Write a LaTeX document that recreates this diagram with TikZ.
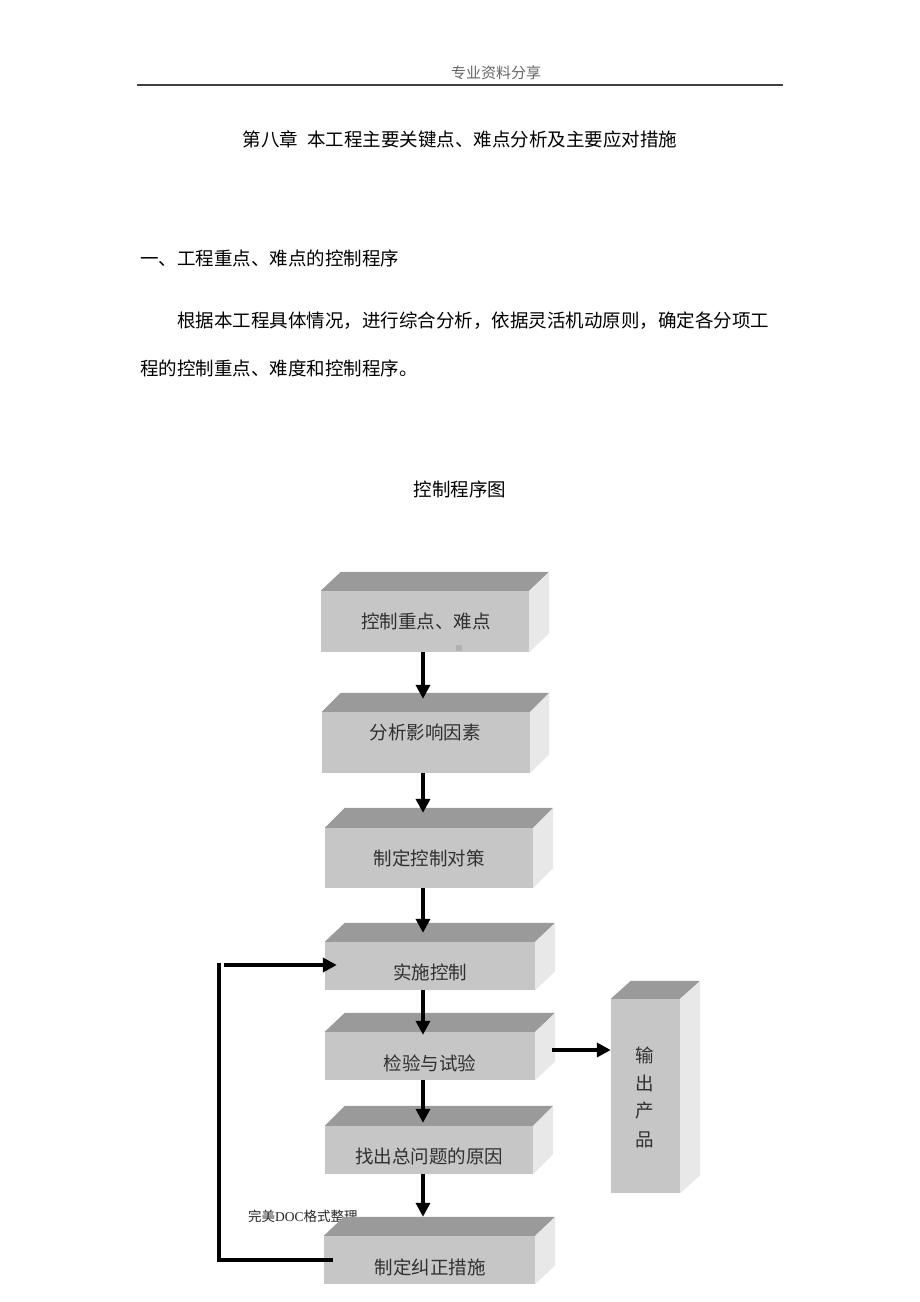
\documentclass[tikz,border=0pt]{standalone}
\usepackage{fontspec}
\setmainfont{Noto Sans CJK SC}
\newfontfamily\latinserif{Liberation Serif}
\usetikzlibrary{arrows.meta}
\definecolor{frontc}{HTML}{C6C6C6}
\definecolor{topc}{HTML}{9A9A9A}
\definecolor{sidec}{HTML}{E8E8E8}
\definecolor{boxtxt}{HTML}{303030}
\definecolor{rulec}{HTML}{404040}
\newcommand\cubebox[7]{%
  \node[frontbox, minimum width=#4pt, minimum height=#5pt] (#1) at (#2,#3) {};
  \fill[topc] (#1.north west) -- ([shift={(#6pt,#7pt)}]#1.north west) -- ([shift={(#6pt,#7pt)}]#1.north east) -- (#1.north east) -- cycle;
  \fill[sidec] (#1.north east) -- ([shift={(#6pt,#7pt)}]#1.north east) -- ([shift={(#6pt,#7pt)}]#1.south east) -- (#1.south east) -- cycle;
}
\tikzset{
  frontbox/.style={rectangle, fill=frontc, draw=none, inner sep=0pt},
  boxtext/.style={text=boxtxt, inner sep=0pt, font=\fontsize{18.5pt}{20pt}\selectfont},
  bodytext/.style={text=black, inner sep=0pt, font=\fontsize{18.5pt}{20pt}\selectfont},
  arr/.style={line width=4pt, -{Triangle[width=14pt,length=14pt]}},
  thickline/.style={line width=4pt},
}
\begin{document}
\begin{tikzpicture}[x=1pt,y=-1pt]
\fill[white] (0,0) rectangle (920,1302);
\useasboundingbox (0,0) rectangle (920,1302);
% header
\node[text=rulec!80, inner sep=0pt, font=\fontsize{15pt}{16pt}\selectfont] (hdr) at (496,73) {专业资料分享};
\coordinate (rl) at (137,85);
\coordinate (rr) at (783,85);
\draw[rulec, line width=1.6pt] (rl) -- (rr);
% title and text
\node[bodytext] (title) at (460,139) {第八章\hspace{0.5em}本工程主要关键点、难点分析及主要应对措施};
\node[bodytext, anchor=west] (head) at (140,258) {一、工程重点、难点的控制程序};
\node[bodytext, anchor=west] (body1) at (177,321) {根据本工程具体情况，进行综合分析，依据灵活机动原则，确定各分项工};
\node[bodytext, anchor=west] (body2) at (140,368) {程的控制重点、难度和控制程序。};
\node[bodytext] (cap) at (460,489) {控制程序图};
% watermark (covered by box)
\node[anchor=west, inner sep=0pt, text=black!85, font=\fontsize{13.5pt}{14pt}\selectfont] (wm) at (248,1216) {完美{\latinserif DOC}格式整理};
% boxes
\cubebox{b1}{425}{621.5}{208}{61}{20}{19}
\cubebox{b2}{426}{742.5}{208}{61}{19}{19}
\cubebox{b3}{429}{858}{208}{60}{20}{20}
\cubebox{b4}{430}{966}{210}{48}{20}{19}
\cubebox{b5}{430}{1056}{210}{48}{20}{19}
\cubebox{b6}{429}{1150}{208}{48}{20}{20}
\cubebox{b7}{429.5}{1260}{211}{48}{20}{19}
\cubebox{out}{645.5}{1096}{69}{194}{20}{18}
\fill[black!30] (456,645) rectangle (462,651);
% box texts
\node[boxtext] (t1) at (426,621) {控制重点、难点};
\node[boxtext] (t2) at (425,732) {分析影响因素};
\node[boxtext] (t3) at (429,858) {制定控制对策};
\node[boxtext] (t4) at (430,972) {实施控制};
\node[boxtext] (t5) at (430,1063) {检验与试验};
\node[boxtext] (t6) at (429,1156) {找出总问题的原因};
\node[boxtext] (t7) at (430,1267) {制定纠正措施};
\node[boxtext] (o1) at (645,1055) {输};
\node[boxtext] (o2) at (645,1083) {出};
\node[boxtext] (o3) at (645,1111) {产};
\node[boxtext] (o4) at (645,1140) {品};
% arrows
\draw[arr] ([xshift=-2pt]b1.south) -- ([xshift=-3pt,yshift=13pt]b2.north);
\draw[arr] ([xshift=-3pt]b2.south) -- ([xshift=-6pt,yshift=15pt]b3.north);
\draw[arr] ([xshift=-6pt]b3.south) -- ([xshift=-7pt,yshift=9pt]b4.north);
\draw[arr] ([xshift=-7pt]b4.south) -- ([xshift=-7pt,yshift=-3pt]b5.north);
\draw[arr] ([xshift=-7pt]b5.south) -- ([xshift=-6pt,yshift=3pt]b6.north);
\draw[arr] ([xshift=-6pt]b6.south) -- ([xshift=-6.5pt,yshift=19pt]b7.north);
\draw[arr] ([xshift=17pt,yshift=6pt]b5.east) -- ([yshift=6pt]b5.east -| out.west);
% feedback loop
\coordinate (fb1) at (219,1260);
\coordinate (fb2) at (219,963);
\coordinate (fb3) at (224,965);
\draw[thickline] ([xshift=9pt]b7.west) -- (fb1) -- (fb2);
\draw[arr] (fb3) -- ([xshift=12pt,yshift=1pt]b4.west);
\end{tikzpicture}
\end{document}
